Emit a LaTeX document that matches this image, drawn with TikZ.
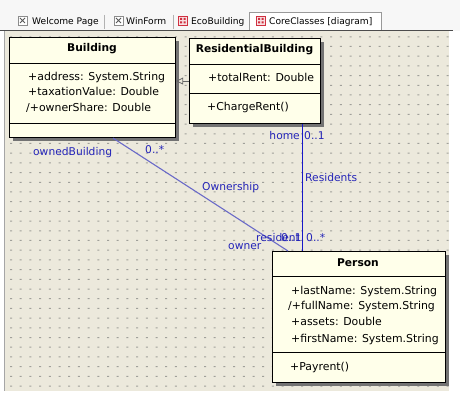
\documentclass[tikz,border=0pt]{standalone}
\usepackage{fontspec}
\setmainfont{DejaVu Sans}
\usetikzlibrary{shadows,arrows.meta,calc}
\definecolor{bg}{HTML}{ECE9DC}
\definecolor{boxfill}{HTML}{FFFFEA}
\definecolor{assocA}{HTML}{1818C8}
\definecolor{assocB}{HTML}{6A6AC8}
\definecolor{lbl}{HTML}{2424B8}
\definecolor{dotc}{HTML}{A0A09A}
\definecolor{iconred}{HTML}{D03040}
\tikzset{
  classbox/.style={draw=black, line width=1.1pt, fill=boxfill, anchor=north west, inner sep=0pt,
    drop shadow={shadow xshift=3pt, shadow yshift=-3pt, fill=black!55, opacity=1}},
  sepline/.style={draw=black, line width=0.9pt},
  member/.style={anchor=base west, inner sep=0pt, font=\fontsize{10.9}{13}\selectfont},
  ctitle/.style={font=\fontsize{10.7}{12}\selectfont\bfseries, inner sep=0pt, anchor=base},
  lab/.style={text=lbl, inner sep=0pt, anchor=base west},
  tabtext/.style={font=\fontsize{9.1}{11}\selectfont, anchor=base west, inner sep=0pt},
  xicon/.style={draw=black!45, fill=white, line width=0.6pt},
  ricon/.style={draw=iconred, fill=iconred!15, line width=0.6pt},
  gen/.style={draw=black!60, line width=0.8pt, -{Triangle[open, length=7pt, width=7pt]}},
}
\begin{document}
\begin{tikzpicture}[x=1pt, y=-1pt, font=\fontsize{10.7}{12}\selectfont]
\useasboundingbox (0,0) rectangle (460,403);
\fill[white] (0,0) rectangle (460,403);
% tab bar
\fill[black!3] (0,0) rectangle (460,31);
\draw[black!40, fill=white] (249,31) -- (249,12) -- (381,12) -- (381,31);
\draw[black!30] (104,15) -- (104,29);
\draw[black!30] (173,15) -- (173,29);
\draw[xicon] (18,16) rectangle (27,25);
\draw[black!65, line width=0.8pt] (20,18) -- (25,23) (20,23) -- (25,18);
\draw[xicon] (114,16) rectangle (123,25);
\draw[black!65, line width=0.8pt] (116,18) -- (121,23) (116,23) -- (121,18);
\draw[ricon] (178,16) rectangle (187,25);
\fill[iconred] (180,18) rectangle ++(2,2) (183.5,18) rectangle ++(2,2) (180,21.5) rectangle ++(2,2) (183.5,21.5) rectangle ++(2,2);
\draw[ricon] (256,16) rectangle (265,25);
\fill[iconred] (258,18) rectangle ++(2,2) (261.5,18) rectangle ++(2,2) (258,21.5) rectangle ++(2,2) (261.5,21.5) rectangle ++(2,2);
\node[tabtext] (t1) at (32,25) {Welcome Page};
\node[tabtext] (t2) at (126,25) {WinForm};
\node[tabtext] (t3) at (191,25) {EcoBuilding};
\node[tabtext] (t4) at (269,25) {CoreClasses [diagram]};
% diagram area
\fill[bg] (4,31) rectangle (449,391);
\draw[black!35] (4.5,31) -- (4.5,391);
\fill[dotc] \foreach \i in {0,...,45}{\foreach \j in {0,...,36}{(10+\i*9.7, 36.3+\j*9.7) rectangle ++(2,1)}};
\draw[black!70, line width=1pt] (0,31) -- (453,31);
% classes
\node[classbox, minimum width=166pt, minimum height=100pt] (building) at (9,37) {};
\node[ctitle] (bt) at (92,52) {Building};
\draw[sepline] (9,63) -- (175,63);
\node[member] (b1) at (28,81) {+address: System.String};
\node[member] (b2) at (28,96) {+taxationValue: Double};
\node[member] (b3) at (26,112) {/+ownerShare: Double};
\draw[sepline] (9,123) -- (175,123);

\node[classbox, minimum width=131pt, minimum height=85pt] (rb) at (189,38) {};
\node[ctitle] (rt) at (254.5,53) {ResidentialBuilding};
\draw[sepline] (189,64) -- (320,64);
\node[member] (r1) at (208,82) {+totalRent: Double};
\draw[sepline] (189,93) -- (320,93);
\node[member] (r2) at (207,111) {+ChargeRent()};

\node[classbox, minimum width=173pt, minimum height=131pt] (person) at (272,251) {};
\node[ctitle] (pt) at (358,266) {Person};
\draw[sepline] (272,276) -- (445,276);
\node[member] (p1) at (291,294) {+lastName: System.String};
\node[member] (p2) at (288,309) {/+fullName: System.String};
\node[member] (p3) at (291,325) {+assets: Double};
\node[member] (p4) at (291,342) {+firstName: System.String};
\draw[sepline] (272,352) -- (445,352);
\node[member] (p5) at (290,370) {+Payrent()};

% generalization
\draw[gen] (rb.west) -- (rb.west -| building.east);
% associations
\draw[assocA, line width=1pt] ($(rb.south west)+(113,0)$) -- ($(person.north west)+(30,0)$);
\draw[assocB, line width=1.1pt] ($(building.south west)+(104,0)$) -- ($(person.north west)+(16,0)$);
% labels
\node[lab, anchor=base east] (l1) at (300,140) {home};
\node[lab] (l2) at (304,140) {0..1};
\node[lab] (l3) at (305,182) {Residents};
\node[lab] (l4) at (256,241) {resident};
\node[lab] (l5) at (281,241) {0..1};
\node[lab] (l6) at (306,241) {0..*};
\node[lab] (l7) at (33,156) {ownedBuilding};
\node[lab] (l8) at (145,154) {0..*};
\node[lab] (l9) at (202,191) {Ownership};
\node[lab] (l10) at (228,249) {owner};
\end{tikzpicture}
\end{document}
